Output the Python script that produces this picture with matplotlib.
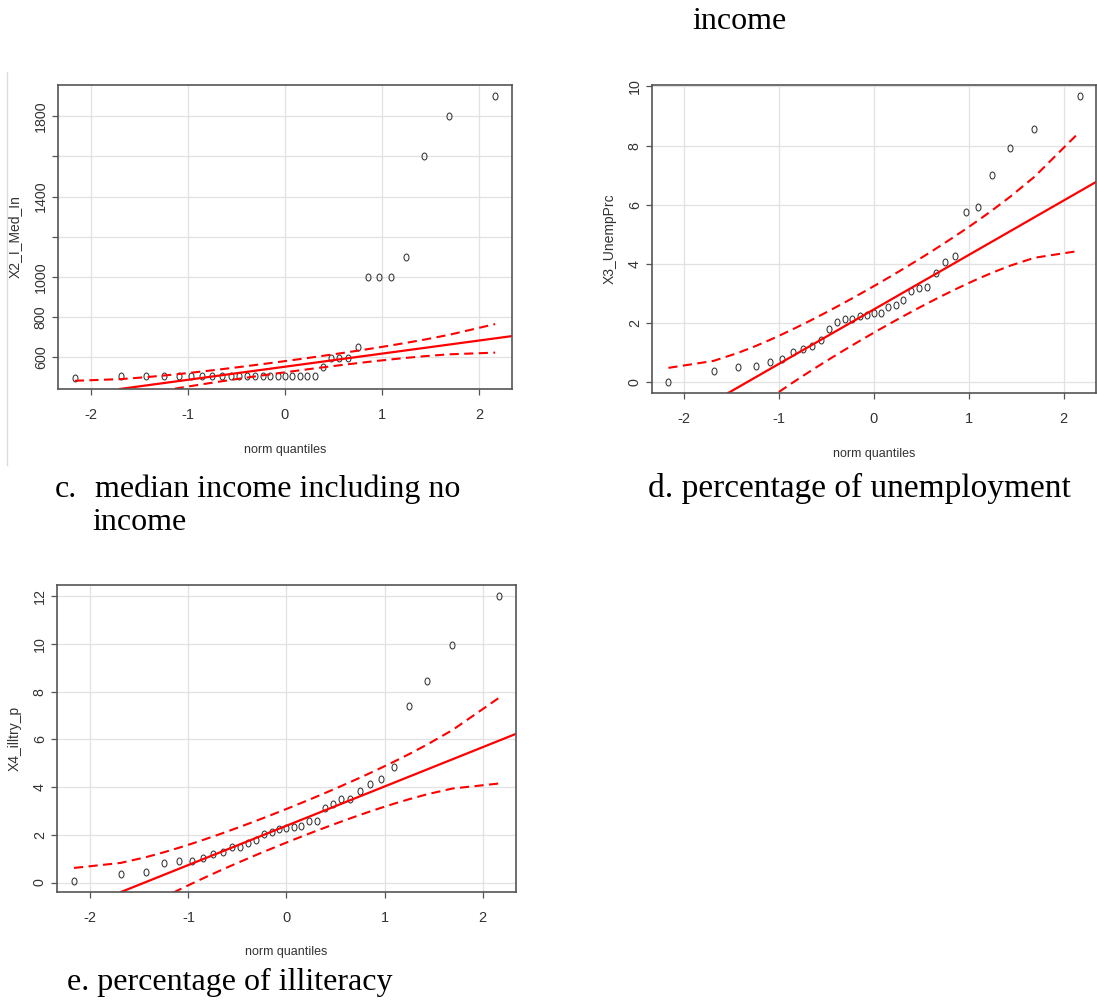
import matplotlib
matplotlib.use("Agg")
import numpy as np
import matplotlib.pyplot as plt
from matplotlib import font_manager
from matplotlib.path import Path
from matplotlib.transforms import Affine2D
from matplotlib.lines import Line2D
from statistics import NormalDist

# Sorted sample values of each variable (33 districts)
med_income = [497] + [508] * 20 + [550, 596, 596, 596, 650,
                                   1000, 1000, 1000, 1100, 1600, 1800, 1900]
unemp_prc = [0.03, 0.39, 0.52, 0.55, 0.70, 0.80, 1.03, 1.14, 1.23, 1.45, 1.82,
             2.05, 2.13, 2.15, 2.24, 2.29, 2.36, 2.36, 2.54, 2.63, 2.78, 3.08,
             3.20, 3.22, 3.71, 4.08, 4.27, 5.77, 5.93, 7.00, 7.91, 8.55, 9.66]
illtry_p = [0.08, 0.36, 0.45, 0.83, 0.90, 0.90, 1.02, 1.18, 1.27, 1.47, 1.47,
            1.64, 1.78, 2.02, 2.11, 2.25, 2.30, 2.32, 2.38, 2.59, 2.59, 3.11,
            3.29, 3.49, 3.49, 3.85, 4.14, 4.35, 4.82, 7.39, 8.44, 9.97, 11.99]

x_ticks = [-2, -1, 0, 1, 2]
x_ticklabels = ["-2", "-1", "0", "1", "2"]
income_ticks = [600, 800, 1000, 1200, 1400, 1600, 1800]
income_ticklabels = ["600", "800", "1000", "", "1400", "", "1800"]
unemp_ticks = [0, 2, 4, 6, 8, 10]
illtry_ticks = [0, 2, 4, 6, 8, 10, 12]

captions = ["income", "c.", "median income including no", "income",
            "d. percentage of unemployment", "e. percentage of illiteracy"]

W, H = 1097, 1005
fig = plt.figure(figsize=(W / 100, H / 100), dpi=100)

names = {f.name for f in font_manager.fontManager.ttflist}
narrow = "Liberation Sans Narrow" if "Liberation Sans Narrow" in names else "Liberation Sans"
serif = "Liberation Serif"
sans = "Liberation Sans"
txt_col = "#333333"

# open "o"-like point symbol, slightly taller than wide
oval = Path.unit_circle().transformed(Affine2D().scale(0.72, 1.0))
nd = NormalDist()


def fx(x):
    return x / W


def fy(y):
    return 1 - y / H


def qq_panel(left, top, right, bottom, values, ylabel, yticks, yticklabels,
             ylab_x, xlab_y):
    ax = fig.add_axes([fx(left), fy(bottom), (right - left) / W, (bottom - top) / H])
    srt = np.sort(np.asarray(values, dtype=float))
    n = len(srt)
    p = (np.arange(1, n + 1) - 0.5) / n
    z = np.array([nd.inv_cdf(pi) for pi in p])

    # reference line through the quartiles
    q1, q3 = np.percentile(srt, [25, 75])
    zq = nd.inv_cdf(0.75)
    slope = (q3 - q1) / (2 * zq)
    icpt = q1 + slope * zq

    # pointwise 95% envelope
    zz = nd.inv_cdf(0.975)
    dens = np.array([nd.pdf(zi) for zi in z])
    fit = icpt + slope * z
    se = slope / dens * np.sqrt(p * (1 - p) / n)
    upper = fit + zz * se
    lower = fit - zz * se

    zr = z[-1] - z[0]
    yr = srt[-1] - srt[0]
    ax.set_xlim(z[0] - 0.04 * zr, z[-1] + 0.04 * zr)
    ax.set_ylim(srt[0] - 0.04 * yr, srt[-1] + 0.04 * yr)

    ax.grid(True, color="#e2e2e2", lw=0.9)
    ax.set_axisbelow(True)
    ax.plot(z, srt, linestyle="none", marker=oval, markersize=5.0,
            markerfacecolor="none", markeredgecolor="#333333", markeredgewidth=0.75)
    ax.axline((0, icpt), slope=slope, color="red", lw=1.6)
    ax.plot(z, upper, color="red", lw=1.5, linestyle=(0, (4.4, 2.6)))
    ax.plot(z, lower, color="red", lw=1.5, linestyle=(0, (4.4, 2.6)))

    ax.set_xticks(x_ticks)
    ax.set_xticklabels(x_ticklabels, fontfamily=narrow, fontsize=10.5, color=txt_col)
    ax.set_yticks(yticks)
    ax.set_yticklabels(yticklabels, fontfamily=sans, fontsize=10.3, color=txt_col,
                       rotation=90, va="center")
    ax.tick_params(axis="x", length=4.3, width=0.9, color="#555555", pad=9.5)
    ax.tick_params(axis="y", length=4.3, width=0.9, color="#555555", pad=3)
    for s in ax.spines.values():
        s.set_color("#555555")
        s.set_linewidth(1.2)

    cx = (left + right) / 2
    fig.text(fx(cx), fy(xlab_y), "norm quantiles", fontfamily=narrow, fontsize=9,
             color=txt_col, ha="center", va="center")
    fig.text(fx(ylab_x), fy((top + bottom) / 2), ylabel, fontfamily=sans, fontsize=10,
             color=txt_col, ha="center", va="center", rotation=90)
    return ax


qq_panel(58, 85, 512, 389, med_income, "X2_I_Med_In", income_ticks,
         income_ticklabels, 15, 450)
qq_panel(652, 85, 1096, 393, unemp_prc, "X3_UnempPrc", unemp_ticks,
         [str(t) for t in unemp_ticks], 610, 454)
qq_panel(57, 585, 516, 892, illtry_p, "X4_illtry_p", illtry_ticks,
         [str(t) for t in illtry_ticks], 15, 952)

# thin border of the first embedded plot
fig.add_artist(Line2D([fx(7), fx(7)], [fy(72), fy(465)], color="#dcdcdc", lw=1.0))

# captions under the plots
cap = dict(fontfamily=serif, fontsize=23, color="black", va="baseline", ha="left")
fig.text(fx(692), fy(29), captions[0], **cap)
fig.text(fx(55), fy(497), captions[1], **cap)
fig.text(fx(95), fy(497), captions[2], **cap)
fig.text(fx(92), fy(530), captions[3], **cap)
fig.text(fx(648), fy(497), captions[4], fontfamily=serif, fontsize=24,
         color="black", va="baseline", ha="left")
fig.text(fx(67), fy(990), captions[5], **cap)

fig.savefig("out.png", dpi=100, facecolor="white")
